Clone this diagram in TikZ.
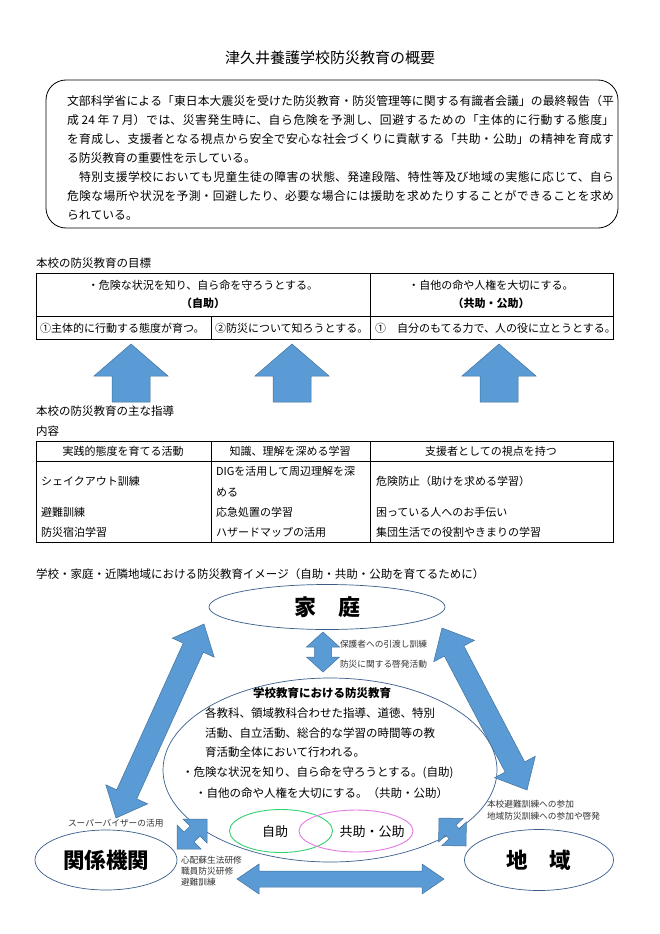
\documentclass[tikz,border=0pt]{standalone}
\usepackage{fontspec}
\setmainfont{Noto Sans CJK JP}
\usetikzlibrary{calc,shapes.geometric}
\XeTeXlinebreaklocale "ja"
\XeTeXlinebreakskip=0pt plus 3pt
\definecolor{arrowfill}{HTML}{5B9BD5}
\definecolor{arrowline}{HTML}{41719C}
\definecolor{ellline}{HTML}{385D8A}
\definecolor{greenell}{HTML}{33D16F}
\definecolor{pinkell}{HTML}{E47BE0}
\newcommand{\fsz}[1]{\fontsize{#1}{#1}\selectfont}
% fat double arrow between two named coordinates
\newcommand{\fatdarrow}[5]{%
  \coordinate (fdP) at ($(#1)!#5!(#2)$);
  \coordinate (fdQ) at ($(#2)!#5!(#1)$);
  \filldraw[bigarrow] (#1) -- ($(fdP)!#4!90:(#2)$) -- ($(fdP)!#3!90:(#2)$)
    -- ($(fdQ)!#3!-90:(#1)$) -- ($(fdQ)!#4!-90:(#1)$) -- (#2)
    -- ($(fdQ)!#4!90:(#1)$) -- ($(fdQ)!#3!90:(#1)$)
    -- ($(fdP)!#3!-90:(#2)$) -- ($(fdP)!#4!-90:(#2)$) -- cycle;}
% fat single arrow from tail #1 to tip #2
\newcommand{\fatuarrow}[5]{%
  \coordinate (fuP) at ($(#2)!#5!(#1)$);
  \filldraw[bigarrow] ($(#1)!#3!90:(#2)$) -- ($(fuP)!#3!-90:(#1)$)
    -- ($(fuP)!#4!-90:(#1)$) -- (#2) -- ($(fuP)!#4!90:(#1)$)
    -- ($(fuP)!#3!90:(#1)$) -- ($(#1)!#3!-90:(#2)$) -- cycle;}
\begin{document}
\begin{tikzpicture}[x=1pt,y=-1pt,
  every node/.style={inner sep=0pt, outer sep=0pt},
  txt/.style={anchor=west},
  tbl/.style={draw=black, line width=0.7pt},
  bigarrow/.style={fill=arrowfill, draw=arrowline, line width=0.5pt, line join=miter},
  ell/.style={ellipse, draw=ellline, line width=0.7pt},
  small/.style={anchor=west, font=\fsz{8.7}, text=black!80}]
\fill[white] (0,0) rectangle (660,934);
\useasboundingbox (0,0) rectangle (660,934);

% title
\node (title) at (330,58) {\fsz{15}津久井養護学校防災教育の概要};

% intro box
\node[draw, rounded corners=20pt, line width=0.8pt, minimum width=572pt, minimum height=148pt] (introbox) at (332,154) {};
\node[anchor=north west, text width=547pt, align=justify, font={\fontsize{11.8}{19}\selectfont}] (intro) at (67,95) {%
文部科学省による「東日本大震災を受けた防災教育・防災管理等に関する有識者会議」の最終報告（平\linebreak
成 24 年 7 月）では、災害発生時に、自ら危険を予測し、回避するための「主体的に行動する態度」\linebreak
を育成し、支援者となる視点から安全で安心な社会づくりに貢献する「共助・公助」の精神を育成す\linebreak
る防災教育の重要性を示している。\par
　特別支援学校においても児童生徒の障害の状態、発達段階、特性等及び地域の実態に応じて、自ら\linebreak
危険な場所や状況を予測・回避したり、必要な場合には援助を求めたりすることができることを求め\linebreak
られている。\par};

% goals
\node[txt] (goalhead) at (36,263) {\fsz{11.5}本校の防災教育の目標};
\draw[tbl] (36,273) rectangle (613,339);
\draw[tbl] (370,273) -- (370,339);
\draw[tbl] (36,316) -- (613,316);
\draw[tbl] (211,316) -- (211,339);
\node (g1a) at (203,285) {\fsz{11}・危険な状況を知り、自ら命を守ろうとする。};
\node (g1b) at (203,303) {\fsz{11}\bfseries（自助）};
\node (g2a) at (491,285) {\fsz{11}・自他の命や人権を大切にする。};
\node (g2b) at (491,303) {\fsz{11}\bfseries（共助・公助）};
\node[txt] (g3) at (40,328) {\fsz{11}①主体的に行動する態度が育つ。};
\node[txt] (g4) at (215,328) {\fsz{11}②防災について知ろうとする。};
\node[txt] (g5) at (375,328) {\fsz{11}①　自分のもてる力で、人の役に立とうとする。};

% up arrows
\coordinate (ua1) at (131,402); \coordinate (ub1) at (131,344);
\coordinate (ua2) at (292,402); \coordinate (ub2) at (292,344);
\coordinate (ua3) at (499,402); \coordinate (ub3) at (499,344);
\fatuarrow{ua1}{ub1}{19pt}{37pt}{32pt}
\fatuarrow{ua2}{ub2}{19pt}{37pt}{32pt}
\fatuarrow{ua3}{ub3}{19pt}{37pt}{32pt}

% guidance table
\node[txt] (guide1) at (36,411) {\fsz{11.5}本校の防災教育の主な指導};
\node[txt] (guide2) at (36,431) {\fsz{11.5}内容};
\draw[tbl] (36,441) rectangle (613,542);
\draw[tbl] (36,461) -- (613,461);
\draw[tbl] (211,441) -- (211,542);
\draw[tbl] (370,441) -- (370,542);
\node (h1) at (123,451) {\fsz{11}実践的態度を育てる活動};
\node (h2) at (290,451) {\fsz{11}知識、理解を深める学習};
\node (h3) at (491,451) {\fsz{11}支援者としての視点を持つ};
\node[txt] (c11) at (41,481) {\fsz{11}シェイクアウト訓練};
\node[txt] (c12) at (41,512) {\fsz{11}避難訓練};
\node[txt] (c13) at (41,532) {\fsz{11}防災宿泊学習};
\node[txt] (c21) at (216,471) {\fsz{11}DIGを活用して周辺理解を深};
\node[txt] (c21b) at (216,492) {\fsz{11}める};
\node[txt] (c22) at (216,512) {\fsz{11}応急処置の学習};
\node[txt] (c23) at (216,532) {\fsz{11}ハザードマップの活用};
\node[txt] (c31) at (376,481) {\fsz{11}危険防止（助けを求める学習）};
\node[txt] (c32) at (376,512) {\fsz{11}困っている人へのお手伝い};
\node[txt] (c33) at (376,532) {\fsz{11}集団生活での役割やきまりの学習};

% caption
\node[txt] (caption) at (36,574) {\fsz{11.5}学校・家庭・近隣地域における防災教育イメージ（自助・共助・公助を育てるために）};

% bottom diagram
\node[ell, minimum width=236pt, minimum height=45pt] (home) at (327,607) {\fsz{22}\bfseries 家　庭};
\node[ell, minimum width=334pt, minimum height=184pt] (school) at (330,770) {};
\node[ell, minimum width=142pt, minimum height=60pt] (agency) at (106,860) {\fsz{21.5}\bfseries 関係機関};
\node[ell, minimum width=149pt, minimum height=61pt] (region) at (539,860) {\fsz{21.5}\bfseries 地　域};
\node[ellipse, draw=greenell, line width=0.9pt, minimum width=103pt, minimum height=43pt] (selfhelp) at (281,831) {};
\node[ellipse, draw=pinkell, line width=0.9pt, minimum width=114pt, minimum height=42pt] (mutual) at (356,831) {};
\node (selfhelptxt) at (275,832) {\fsz{13}自助};
\node (mutualtxt) at (372,832) {\fsz{13}共助・公助};

% school text
\node (s0) at (322,693) {\fsz{11.5}\bfseries 学校教育における防災教育};
\node[txt] (s1) at (205,713) {\fsz{11.5}各教科、領域教科合わせた指導、道徳、特別};
\node[txt] (s2) at (205,733) {\fsz{11.5}活動、自立活動、総合的な学習の時間等の教};
\node[txt] (s3) at (205,752) {\fsz{11.5}育活動全体において行われる。};
\node[txt] (s4) at (182,773) {\fsz{11.5}・危険な状況を知り、自ら命を守ろうとする。(自助)};
\node[txt] (s5) at (195,793) {\fsz{11.5}・自他の命や人権を大切にする。（共助・公助）};

% connectors (fat arrows)
\coordinate (vA) at (323,632); \coordinate (vB) at (323,672);
\fatdarrow{vA}{vB}{8.5pt}{16.5pt}{15pt}
\coordinate (lA) at (116,818); \coordinate (lB) at (204,624);
\fatdarrow{lA}{lB}{11pt}{23pt}{26pt}
\coordinate (rA) at (442,628); \coordinate (rB) at (527,790);
\fatdarrow{rA}{rB}{11pt}{23pt}{26pt}
\coordinate (slA) at (207,819); \coordinate (slB) at (177,849);
\fatdarrow{slA}{slB}{7pt}{17pt}{17pt}
\coordinate (srA) at (439,818); \coordinate (srB) at (466,846);
\fatdarrow{srA}{srB}{7pt}{17pt}{17pt}
\coordinate (hA) at (237,879); \coordinate (hB) at (444,879);
\fatdarrow{hA}{hB}{8pt}{15pt}{22pt}

% small labels
\node[small] (lab1) at (340,644) {保護者への引渡し訓練};
\node[small] (lab2) at (340,664) {防災に関する啓発活動};
\node[small] (lab3) at (68,823) {スーパーバイザーの活用};
\node[small] (lab4) at (487,804) {本校避難訓練への参加};
\node[small] (lab5) at (487,816) {地域防災訓練への参加や啓発};
\node[small] (lab6) at (181,860) {心配蘇生法研修};
\node[small] (lab7) at (181,871) {職員防災研修};
\node[small] (lab8) at (181,882) {避難訓練};
\end{tikzpicture}
\end{document}
